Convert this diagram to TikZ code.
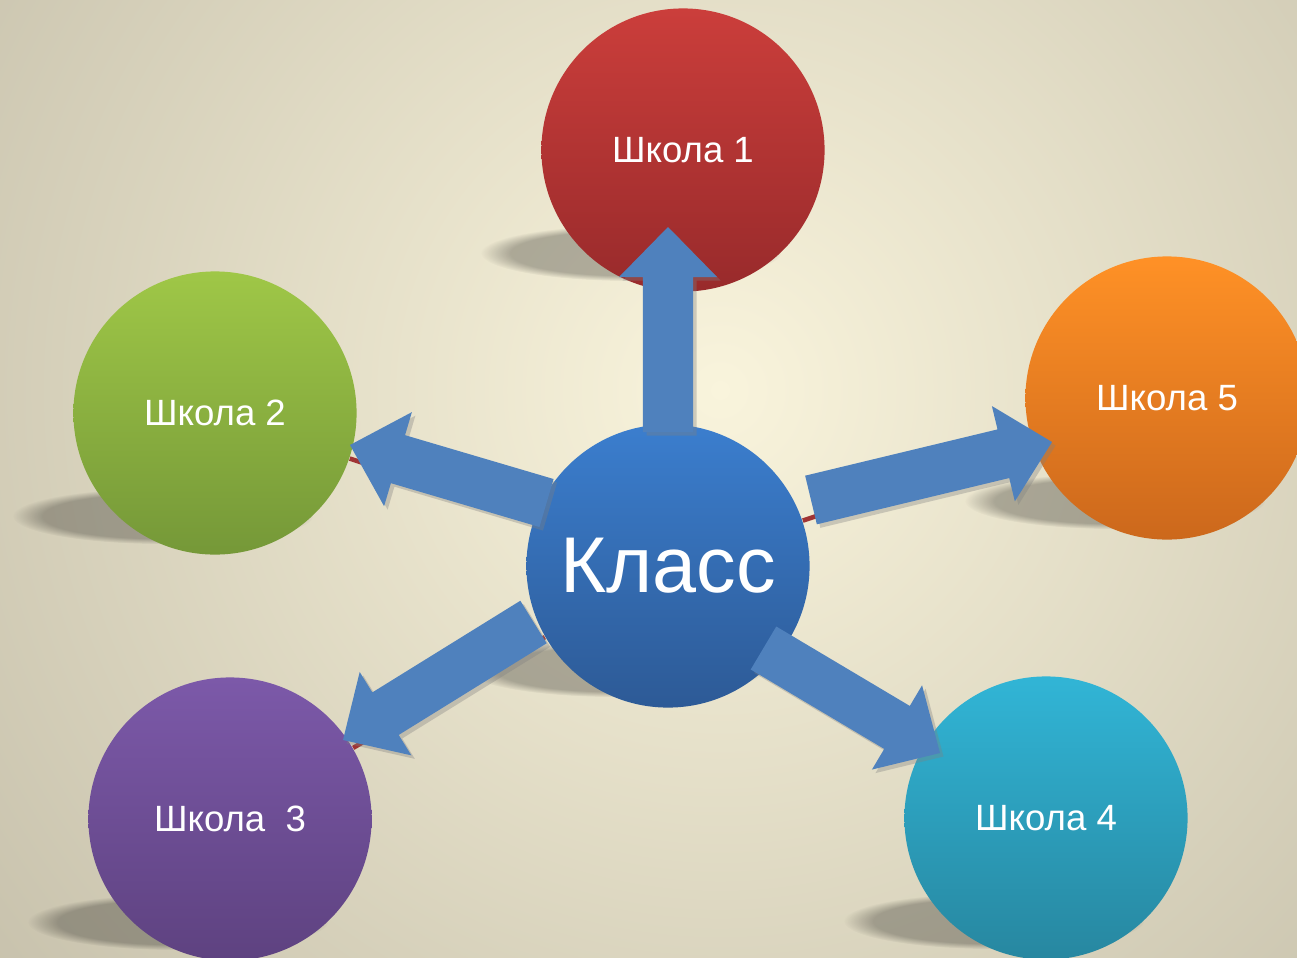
\documentclass[tikz,border=0pt]{standalone}
\usepackage{fontspec}
\setmainfont{Liberation Sans}
\usetikzlibrary{calc,shadows,fadings}

\definecolor{bgin}{HTML}{F9F4DC}
\definecolor{bgout}{HTML}{C4BEA9}
\definecolor{redtop}{HTML}{CB3E3B}
\definecolor{redbot}{HTML}{982A2B}
\definecolor{greentop}{HTML}{9FC747}
\definecolor{greenbot}{HTML}{759838}
\definecolor{purpletop}{HTML}{7C59A9}
\definecolor{purplebot}{HTML}{5E4280}
\definecolor{cyantop}{HTML}{31B5D6}
\definecolor{cyanbot}{HTML}{2787A0}
\definecolor{orangetop}{HTML}{FF9126}
\definecolor{orangebot}{HTML}{CC681C}
\definecolor{bluetop}{HTML}{3B7ECE}
\definecolor{bluebot}{HTML}{2D5A96}
\definecolor{arrowblue}{HTML}{4F81BD}
\definecolor{linkred}{HTML}{A03434}

\pgfdeclarelayer{bg}
\pgfsetlayers{bg,main}

\tikzset{
  schoolball/.style={circle, minimum size=2.83cm, inner sep=0pt, text=white,
    font=\fontsize{10.4}{12}\selectfont},
  arrowfill/.style={fill=arrowblue,
    drop shadow={shadow xshift=1pt, shadow yshift=-1pt, opacity=0.35}},
  shadowblob/.style={black, opacity=0.27, path fading=circle with fuzzy edge 20 percent},
  linkline/.style={draw=linkred, line width=1.3pt},
}

% block arrow from tail #1 to tip #2
\newcommand{\blockarrow}[2]{%
  \coordinate (head) at ($(#2)!0.5cm!(#1)$);
  \fill[arrowfill] ($(#1)!0.25cm!90:(#2)$) -- ($(head)!0.25cm!90:(#2)$)
    -- ($(head)!0.49cm!90:(#2)$) -- (#2) -- ($(head)!0.49cm!-90:(#2)$)
    -- ($(head)!0.25cm!-90:(#2)$) -- ($(#1)!0.25cm!-90:(#2)$) -- cycle;
}

\begin{document}
\begin{tikzpicture}[x=0.01cm, y=-0.01cm]
  \useasboundingbox (0,0) rectangle (1297,957);
  \begin{pgfonlayer}{bg}
    \begin{scope}
      \clip (0,0) rectangle (1297,957);
      \shade[inner color=bgin, outer color=bgout] (720,390) circle [radius=10cm];
    \end{scope}
  \end{pgfonlayer}

  \node[schoolball, top color=redtop, bottom color=redbot] (school1) at (683,150) {Школа 1};
  \node[schoolball, top color=greentop, bottom color=greenbot] (school2) at (215,413) {Школа 2};
  \node[schoolball, top color=purpletop, bottom color=purplebot] (school3) at (230,819) {Школа~~3};
  \node[schoolball, top color=cyantop, bottom color=cyanbot] (school4) at (1046,818) {Школа 4};
  \node[schoolball, top color=orangetop, bottom color=orangebot] (school5) at (1167,398) {Школа 5};
  \node[schoolball, top color=bluetop, bottom color=bluebot,
    font=\fontsize{22.5}{26}\selectfont] (klass) at (668,566) {Класс};

  \begin{pgfonlayer}{bg}
    \foreach \n in {school1,school2,school3,school4,school5,klass}
      \fill[shadowblob] ($(\n.center)+(-52,103)$) ellipse [x radius=1.5cm, y radius=0.28cm];
    \foreach \n in {school1,school2,school3,school4,school5}
      \draw[linkline] (klass) -- (\n);
  \end{pgfonlayer}

  \coordinate (tail1) at (668,432);   \coordinate (tip1) at (668,227);
  \coordinate (tail2) at (546.5,503); \coordinate (tip2) at (350,445);
  \coordinate (tail3) at (533.5,622); \coordinate (tip3) at (343,740);
  \coordinate (tail4) at (763.5,648); \coordinate (tip4) at (940,753);
  \coordinate (tail5) at (811,500);   \coordinate (tip5) at (1052,442);

  \foreach \i in {1,...,5}{
    \blockarrow{tail\i}{tip\i}
  }
\end{tikzpicture}
\end{document}
